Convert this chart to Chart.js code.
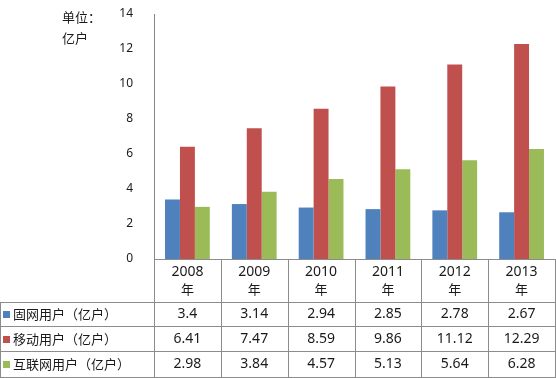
<!DOCTYPE html>
<html><head><meta charset="utf-8">
<script src="https://cdn.jsdelivr.net/npm/chart.js@4/dist/chart.umd.min.js"></script>
<style>html,body{margin:0;padding:0;background:#fff}#wrap{width:556px;height:378px;position:relative}</style>
</head><body><div id="wrap"><canvas id="c" width="556" height="378"></canvas></div>
<script>
const categories = ["2008", "2009", "2010", "2011", "2012", "2013"];
const yearSuffix = "年";
const seriesNames = ["固网用户（亿户）", "移动用户（亿户）", "互联网用户（亿户）"];
const fixedUsers = [3.4, 3.14, 2.94, 2.85, 2.78, 2.67];
const mobileUsers = [6.41, 7.47, 8.59, 9.86, 11.12, 12.29];
const internetUsers = [2.98, 3.84, 4.57, 5.13, 5.64, 6.28];
const colors = ["#4F81BD", "#C0504D", "#9BBB59"];
const unitLines = ["单位：", "亿户"];
const seriesValues = [fixedUsers, mobileUsers, internetUsers];

const CJK = '"Noto Sans CJK SC", "Noto Sans", sans-serif';
const NUM = '"Noto Sans", "Liberation Sans", sans-serif';

const tablePlugin = {
  id: 'dataTable',
  afterDraw(chart) {
    const ctx = chart.ctx;
    const ca = chart.chartArea;
    const xs = chart.scales.x;
    const n = categories.length;
    const colW = (ca.right - ca.left) / n;
    const W = chart.width;
    const headTop = Math.round(ca.bottom), headBot = headTop + 43;
    const rowH = [24, 25, 26];
    ctx.save();
    ctx.fillStyle = '#1a1a1a';
    ctx.font = '13px ' + CJK;
    ctx.textBaseline = 'middle';
    ctx.textAlign = 'left';
    ctx.fillText(unitLines[0], 62, 17);
    ctx.fillText(unitLines[1], 62, 38);
    ctx.strokeStyle = '#8c8c8c';
    ctx.lineWidth = 1;
    ctx.beginPath();
    ctx.moveTo(ca.left, headTop + 0.5); ctx.lineTo(W, headTop + 0.5);
    let y = headBot;
    const rowTops = [];
    for (let r = 0; r <= 3; r++) {
      ctx.moveTo(0, y + 0.5); ctx.lineTo(W, y + 0.5);
      rowTops.push(y);
      if (r < 3) y += rowH[r];
    }
    const bottom = y;
    ctx.moveTo(0.5, headBot); ctx.lineTo(0.5, bottom);
    for (let i = 0; i <= n; i++) {
      let x = Math.round(ca.left + i * colW) + 0.5;
      if (i === n) x = W - 0.5;
      ctx.moveTo(x, headTop); ctx.lineTo(x, bottom);
    }
    ctx.stroke();
    ctx.textAlign = 'center';
    ctx.fillStyle = '#1a1a1a';
    for (let i = 0; i < n; i++) {
      const cx = xs.getPixelForValue(i);
      ctx.font = '14px ' + NUM;
      ctx.fillText(categories[i], cx, headTop + 13);
      ctx.font = '13px ' + CJK;
      ctx.fillText(yearSuffix, cx, headTop + 30);
    }
    for (let r = 0; r < 3; r++) {
      const cy = rowTops[r] + rowH[r] / 2 + 0.5;
      ctx.fillStyle = colors[r];
      ctx.fillRect(3, Math.round(cy - 3.5), 7, 7);
      ctx.fillStyle = '#1a1a1a';
      ctx.textAlign = 'left';
      ctx.font = '13px ' + CJK;
      ctx.fillText(seriesNames[r], 13, cy);
      ctx.textAlign = 'center';
      ctx.font = '14px ' + NUM;
      for (let i = 0; i < n; i++) {
        ctx.fillText(String(seriesValues[r][i]), xs.getPixelForValue(i), cy);
      }
    }
    ctx.restore();
  }
};

new Chart(document.getElementById('c'), {
  type: 'bar',
  data: {
    labels: categories,
    datasets: seriesNames.map((name, k) => ({
      label: name,
      data: seriesValues[k],
      backgroundColor: colors[k],
      borderWidth: 0,
      categoryPercentage: 0.67,
      barPercentage: 1.0
    }))
  },
  options: {
    responsive: false,
    animation: false,
    devicePixelRatio: 1,
    layout: { padding: { left: 0, top: 14, right: 1, bottom: 119 } },
    plugins: { legend: { display: false }, tooltip: { enabled: false } },
    scales: {
      x: { display: false },
      y: {
        min: 0, max: 14,
        ticks: { stepSize: 2, color: '#1a1a1a', font: { family: NUM, size: 12 }, padding: 13 },
        grid: { display: false },
        border: { display: true, color: '#868686', width: 1 },
        afterFit(scale) { scale.width = 154; scale.paddingTop = 0; scale.paddingBottom = 0; }
      }
    }
  },
  plugins: [tablePlugin]
});
</script>
</body></html>
